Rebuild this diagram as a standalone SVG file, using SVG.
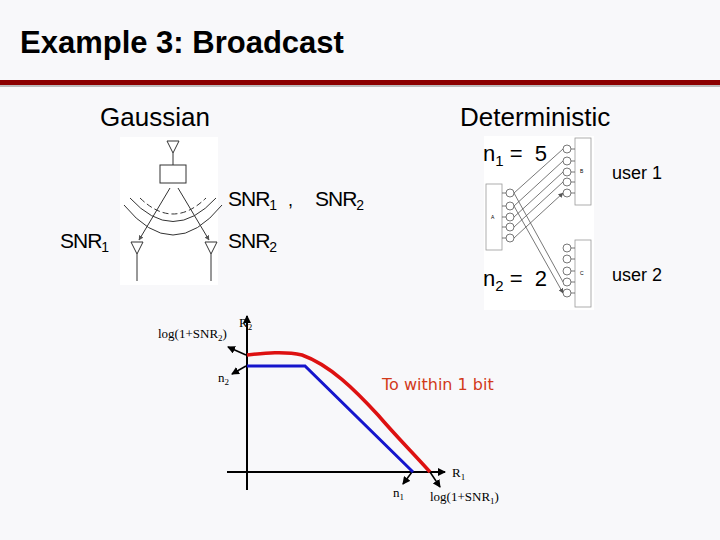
<svg xmlns="http://www.w3.org/2000/svg" width="720" height="540" viewBox="0 0 720 540">
<defs>
<marker id="ah" markerWidth="8" markerHeight="8" refX="7" refY="4" orient="auto" markerUnits="userSpaceOnUse"><path d="M0,0 L8,4 L0,8 z" fill="#000"/></marker>
<marker id="sm" markerWidth="5" markerHeight="5" refX="4.5" refY="2.5" orient="auto" markerUnits="userSpaceOnUse"><path d="M0,0 L5,2.5 L0,5 z" fill="#555"/></marker>
</defs>
<style>
.t{font-family:"Liberation Sans",Arial,sans-serif;fill:#000}
.s{font-family:"Liberation Serif","Times New Roman",serif;font-size:13px;fill:#000}
.thin{stroke:#555;stroke-width:0.8;fill:none}
.c{fill:#fff;stroke:#555;stroke-width:0.8}
.box{fill:#fff;stroke:#999;stroke-width:0.8}
</style>
<rect width="720" height="540" fill="#f8f8fa"/>
<g id="title">
<text class="t" x="20" y="53" font-size="31" font-weight="bold">Example 3: Broadcast</text>
<rect x="0" y="80" width="720" height="5" fill="#8b0000"/>
<rect x="0" y="85" width="720" height="2" fill="#bbb"/>
</g>
<text class="t" x="100" y="126" font-size="26" fill="#333">Gaussian</text>
<text class="t" x="460" y="126" font-size="26">Deterministic</text>
<g id="gaussian">
<rect x="120" y="137" width="98" height="148" fill="#fff"/>
<g stroke="#333" stroke-width="1" fill="none">
<path d="M167,141 L179,141 L173,153 z M173,153 V165"/>
<rect x="160" y="165" width="26" height="18"/>
<path d="M140,198 Q173,230 206,198" stroke-dasharray="6,3"/>
<path d="M130,198 Q173,245 216,198"/>
<path d="M124,205 Q173,265 222,205"/>
<path d="M170,188 L139,240" marker-end="url(#sm)"/>
<path d="M178,188 L209,240" marker-end="url(#sm)"/>
<path d="M131,242 L143,242 L137,254 z M137,254 V281"/>
<path d="M205,242 L217,242 L211,254 z M211,254 V281"/>
</g>
<text class="t" x="228" y="206" font-size="21" letter-spacing="-1">SNR<tspan font-size="14" dy="4">1</tspan></text>
<text class="t" x="288" y="206" font-size="18">,</text>
<text class="t" x="315" y="206" font-size="21" letter-spacing="-1">SNR<tspan font-size="14" dy="4">2</tspan></text>
<text class="t" x="60" y="248" font-size="21" letter-spacing="-1">SNR<tspan font-size="14" dy="4">1</tspan></text>
<text class="t" x="228" y="248" font-size="21" letter-spacing="-1">SNR<tspan font-size="14" dy="4">2</tspan></text>
</g>
<g id="deterministic">
<rect x="484" y="136" width="110" height="174" fill="#fff"/>
<rect class="box" x="486" y="184" width="16" height="66"/>
<rect class="box" x="575" y="138" width="16" height="67"/>
<rect class="box" x="575" y="240" width="16" height="67"/>
<text x="491" y="219" font-size="5" font-family="Liberation Sans,sans-serif">A</text>
<text x="580" y="173" font-size="5" font-family="Liberation Sans,sans-serif">B</text>
<text x="580" y="275" font-size="5" font-family="Liberation Sans,sans-serif">C</text>
<g class="thin">
<path d="M502,193h4M502,206h4M502,217h4M502,227h4M502,238h4"/>
<path d="M571,149h4M571,161h4M571,172h4M571,182h4M571,193h4"/>
<path d="M571,248h4M571,259h4M571,271h4M571,282h4M571,293h4"/>
<path d="M514,193L563,149M514,206L563,161M514,217L563,172M514,227L563,182M514,238L563,193" marker-end="url(#sm)"/>
<path d="M514,193L563,282M514,206L563,293" marker-end="url(#sm)"/>
</g>
<g>
<circle class="c" cx="510" cy="193" r="4"/><circle class="c" cx="510" cy="206" r="4"/><circle class="c" cx="510" cy="217" r="4"/><circle class="c" cx="510" cy="227" r="4"/><circle class="c" cx="510" cy="238" r="4"/>
<circle class="c" cx="567" cy="149" r="4"/><circle class="c" cx="567" cy="161" r="4"/><circle class="c" cx="567" cy="172" r="4"/><circle class="c" cx="567" cy="182" r="4"/><circle class="c" cx="567" cy="193" r="4"/>
<circle class="c" cx="567" cy="248" r="4"/><circle class="c" cx="567" cy="259" r="4"/><circle class="c" cx="567" cy="271" r="4"/><circle class="c" cx="567" cy="282" r="4"/><circle class="c" cx="567" cy="293" r="4"/>
</g>
<text class="t" x="483" y="161" font-size="22" xml:space="preserve">n<tspan font-size="15" dy="5">1</tspan><tspan dy="-5"> =  5</tspan></text>
<text class="t" x="483" y="286" font-size="22" xml:space="preserve">n<tspan font-size="15" dy="5">2</tspan><tspan dy="-5"> =  2</tspan></text>
<text class="t" x="612" y="179" font-size="18">user 1</text>
<text class="t" x="612" y="281" font-size="18">user 2</text>
</g>
<g id="plot">
<g stroke="#000" stroke-width="2" fill="none">
<path d="M247,490 V316" marker-end="url(#ah)"/>
<path d="M227,472 H445" marker-end="url(#ah)"/>
<path d="M246,355 L228,347" stroke-width="1.5" marker-end="url(#ah)"/>
<path d="M246,366 L232,374" stroke-width="1.5" marker-end="url(#ah)"/>
<path d="M412,472 L403,484" stroke-width="1.5" marker-end="url(#ah)"/>
<path d="M430,472 L440,487" stroke-width="1.5" marker-end="url(#ah)"/>
</g>
<path d="M247,366 H305 L413,472" stroke="#1515cc" stroke-width="3" fill="none"/>
<path d="M247,355 C265,353 285,351 302,355 C330,365 355,390 378,415 C395,435 412,452 430,472" stroke="#dd1111" stroke-width="3.5" fill="none"/>
<text class="s" x="239" y="327">R<tspan font-size="9" dy="3">2</tspan></text>
<text class="s" x="158" y="338">log(1+SNR<tspan font-size="9" dy="3">2</tspan><tspan dy="-3">)</tspan></text>
<text class="s" x="218" y="382">n<tspan font-size="9" dy="3">2</tspan></text>
<text class="s" x="452" y="477">R<tspan font-size="9" dy="3">1</tspan></text>
<text class="s" x="393" y="497">n<tspan font-size="9" dy="3">1</tspan></text>
<text class="s" x="430" y="501">log(1+SNR<tspan font-size="9" dy="3">1</tspan><tspan dy="-3">)</tspan></text>
<text x="382" y="390" font-size="16" font-family="DejaVu Sans,Verdana,sans-serif" fill="#d23a1a">To within 1 bit</text>
</g>
</svg>
